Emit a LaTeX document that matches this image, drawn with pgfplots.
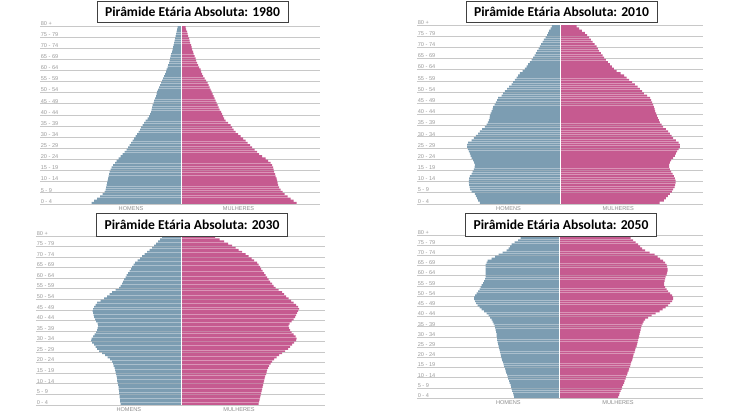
\documentclass[border=0pt]{standalone}
\usepackage{pgfplots}
\pgfplotsset{compat=1.18}
\usepackage{pgfplotstable}
\usepackage{fontspec}
\setmainfont{Carlito}
\newfontfamily\miudo{Liberation Sans}

\definecolor{homem}{RGB}{124,157,178}
\definecolor{mulher}{RGB}{198,90,144}
\definecolor{grade}{RGB}{200,200,200}
\definecolor{rotulo}{RGB}{155,155,155}

% bar lengths (pixels from the centre line)
\pgfplotstableread{
age m f
0 90 115
1 87.5 112
2 84.5 109
3 81.5 106
4 79 103
5 77 101
6 76 99
7 75.5 97.5
8 75 96.5
9 74.5 96
10 74 95.5
11 73.5 95
12 73 94
13 72.5 93.5
14 72 92.5
15 71 92
16 70 91.5
17 68.5 90.5
18 66.5 89
19 65 86.5
20 63 84
21 61 80.5
22 59 77.5
23 57 75.5
24 55 73
25 53.5 70.5
26 52 68.5
27 50.5 66
28 49 64
29 47.5 61.5
30 46 59
31 44.5 56.5
32 43 54
33 41.5 52
34 40.5 50.5
35 39 49
36 37.5 46.5
37 36 44
38 34 42.5
39 32.5 41.5
40 31.5 40.5
41 30.5 39.5
42 30 38
43 29.5 37
44 29 36
45 28 35
46 27.5 34
47 26.5 33
48 25.5 32
49 25 31
50 24.5 30
51 23.5 29
52 22.5 28
53 21.5 27
54 20.5 26
55 19.5 24.5
56 18.5 23
57 17.5 21.5
58 16.5 20.5
59 15.5 19.5
60 15 19
61 14 17.5
62 13.5 16.5
63 12.5 15.5
64 12 14.5
65 11.5 14
66 11 13
67 10.5 12
68 9.5 11.5
69 9 10.5
70 8.5 10
71 8 9.5
72 7.5 8.5
73 7 8
74 6.5 7.5
75 6 6.5
76 5.5 6
77 5 5.5
78 4.5 4.5
79 4 4
}\tabA

\pgfplotstableread{
age m f
0 80.7 99
1 82.3 103.3
2 83.3 105.3
3 84.7 107.3
4 85.7 109.3
5 89 111.3
6 90.3 112.7
7 91 114
8 91.3 114.7
9 91.7 115
10 91.7 115
11 91.3 114.3
12 90.7 113.3
13 89 112
14 88 110.7
15 86.7 109.3
16 86 108.7
17 85.7 108.7
18 86.3 109.3
19 87.3 110.7
20 89 112.7
21 90 114.3
22 90.7 115.3
23 91.7 116.7
24 92.7 118
25 93.3 119.3
26 93.3 119.3
27 92.3 118
28 89 115.3
29 86.7 112.7
30 84.7 111
31 82.3 109.3
32 80.7 107.7
33 78.3 105.3
34 75.7 102.7
35 74 101
36 72.7 99.3
37 71.7 98.3
38 71 97.3
39 70.7 96.3
40 70 95.7
41 69 94.7
42 68 94
43 67.3 93.3
44 66 92.7
45 64.7 91.7
46 63.3 90.7
47 62.3 89.7
48 59 86.7
49 57.3 83.3
50 55.7 81.7
51 53.3 79.3
52 51.3 77
53 49 74.3
54 47.3 71.7
55 45.7 68.7
56 44 66
57 42.3 63.7
58 40.7 60
59 38 56
60 35.7 53.3
61 34 51.3
62 32.3 49.3
63 30.7 47.3
64 29 45.3
65 27.3 43.7
66 26 42
67 24.7 40.3
68 23.3 38.7
69 22 37.3
70 20.7 36
71 19.3 34
72 18 32
73 16.7 30.3
74 15 28.7
75 13.3 26.7
76 12.3 24.3
77 11.3 21.3
78 10 18.7
79 8.7 16
}\tabB

\pgfplotstableread{
age m f
0 60.5 77.5
1 61 78
2 61 78.5
3 61.5 79
4 61.5 79.5
5 62 80
6 62 80.5
7 62.5 81
8 62.5 81.5
9 63 82
10 63.5 82.5
11 64 83
12 64 83.5
13 64.5 84
14 65 85
15 65.5 85.5
16 66 86
17 66.5 87
18 67.5 88
19 68 89.5
20 69 91
21 71 93
22 73.5 95.5
23 76 98
24 79 101
25 82 104
26 84 107
27 85.5 109
28 87 111
29 89 113
30 90 115
31 89.5 115.5
32 88 114.5
33 86.5 112.5
34 85 110.5
35 84 109
36 83.5 108
37 83 107.5
38 83.5 108.5
39 85 110.5
40 86 112.5
41 87 114
42 87.5 115
43 88 116
44 88.5 117
45 88 118
46 87 117
47 85.5 115
48 84 112.5
49 80.5 110
50 77 107.5
51 74 105
52 71.5 103
53 69 101
54 65.5 97.5
55 62 94.5
56 60.5 92.5
57 59 91
58 58 89
59 57 87.5
60 55.5 86
61 54.5 84.5
62 53 83
63 51.5 81.5
64 50 80
65 49 79
66 47.5 77.5
67 46 76
68 43.5 73
69 41 70.5
70 39 67.5
71 36.5 64.5
72 34 61
73 31.5 57.5
74 29 54.5
75 27 51
76 25 47
77 23 43
78 21 38.5
79 19 34
}\tabC

\pgfplotstableread{
age m f
0 45.5 58.5
1 46 59.5
2 46.5 60
3 47.5 61
4 48 62
5 48.5 62.5
6 49 63.5
7 50 64.5
8 50.5 65
9 51.5 66
10 52 66.5
11 52.5 67.5
12 53.5 68
13 54 69
14 54.5 69.5
15 55.5 70.5
16 56 71
17 56.5 71.5
18 57.5 72.5
19 58 73
20 58.5 73.5
21 59 74
22 59.5 75
23 60 75.5
24 60.5 76
25 61 77
26 61.5 77.5
27 62 78
28 62.5 78.5
29 62.5 79
30 63 79.5
31 63 80
32 63.5 80.5
33 64 81
34 64.5 81.5
35 65 82
36 66 83
37 67 84
38 68 85.5
39 69.5 88.5
40 71 92
41 73 96
42 75.5 100
43 78 103
44 80 106
45 82 108.5
46 83.5 110.5
47 84.5 112.5
48 85.5 113.5
49 85.5 113.5
50 84.5 112.5
51 83 110.5
52 81.5 108.5
53 80 107
54 79 105.5
55 78 104.5
56 76.5 104.5
57 75.5 105
58 74.5 105.5
59 74 106
60 74 107
61 74 107.5
62 74 108
63 74 108
64 74 107.5
65 74 107
66 73 105.5
67 72 103.5
68 68 100.5
69 64.5 98
70 61 95
71 57 90
72 53 85.5
73 51 82.5
74 49.5 80.5
75 48 78.5
76 45 76
77 41.5 73.5
78 39 71
79 37 68.5
}\tabD

\pgfplotsset{
  piramide/.style={
    scale only axis,
    anchor=south west,
    ymin=0, ymax=80,
    enlargelimits=false,
    axis line style={draw=none},
    major tick length=0pt,
    xtick=\empty,
    ytick={0,5,...,80},
    yticklabels={0 - 4,5 - 9,10 - 14,15 - 19,20 - 24,25 - 29,30 - 34,35 - 39,40 - 44,45 - 49,50 - 54,55 - 59,60 - 64,65 - 69,70 - 74,75 - 79,80 +},
    yticklabel style={anchor=south west, inner sep=0.6pt, text=rotulo, font=\miudo\fontsize{5.6}{6}\selectfont},
    ymajorgrids,
    grid style={grade, line width=0.8pt},
    clip=false,
  },
  homens/.style={xbar, bar width=0.82, bar shift=0pt, fill=homem, draw=none},
  mulheres/.style={xbar, bar width=0.82, bar shift=0pt, fill=mulher, draw=none},
}

\begin{document}
\begin{tikzpicture}
\path[use as bounding box] (0,0) rectangle (739pt,415pt);

% 1980
\begin{axis}[piramide, at={(40pt,211pt)}, width=280pt, height=178pt, xmin=-141.5, xmax=138.5]
\addplot[homens] table[x expr=-\thisrow{m}, y expr=\thisrow{age}+0.5] {\tabA};
\addplot[mulheres] table[x=f, y expr=\thisrow{age}+0.5] {\tabA};
\draw[white, line width=0.6pt] (axis cs:0,0) -- (axis cs:0,80);
\end{axis}

% 2010
\begin{axis}[piramide, at={(417pt,211pt)}, width=286pt, height=179pt, xmin=-143.5, xmax=142.5]
\addplot[homens] table[x expr=-\thisrow{m}, y expr=\thisrow{age}+0.5] {\tabB};
\addplot[mulheres] table[x=f, y expr=\thisrow{age}+0.5] {\tabB};
\draw[white, line width=0.6pt] (axis cs:0,0) -- (axis cs:0,80);
\end{axis}

% 2030
\begin{axis}[piramide, at={(36pt,10pt)}, width=289pt, height=169pt, xmin=-145, xmax=144]
\addplot[homens] table[x expr=-\thisrow{m}, y expr=\thisrow{age}+0.5] {\tabC};
\addplot[mulheres] table[x=f, y expr=\thisrow{age}+0.5] {\tabC};
\draw[white, line width=0.6pt] (axis cs:0,0) -- (axis cs:0,80);
\end{axis}

% 2050
\begin{axis}[piramide, at={(417pt,16.7pt)}, width=286pt, height=163.3pt, xmin=-142.7, xmax=143.3]
\addplot[homens] table[x expr=-\thisrow{m}, y expr=\thisrow{age}+0.5] {\tabD};
\addplot[mulheres] table[x=f, y expr=\thisrow{age}+0.5] {\tabD};
\draw[white, line width=0.6pt] (axis cs:0,0) -- (axis cs:0,80);
\end{axis}

% sexo
\tikzset{sexo/.style={text=black!45, font=\miudo\fontsize{5.6}{6}\selectfont, inner sep=0pt}}
\node[sexo] at (131pt,206pt) {HOMENS};
\node[sexo] at (238.5pt,206pt) {MULHERES};
\node[sexo] at (508.5pt,206.5pt) {HOMENS};
\node[sexo] at (618.3pt,206.5pt) {MULHERES};
\node[sexo] at (128.8pt,5pt) {HOMENS};
\node[sexo] at (239pt,5pt) {MULHERES};
\node[sexo] at (508.3pt,12pt) {HOMENS};
\node[sexo] at (618pt,12pt) {MULHERES};

% titulos
\tikzset{titulo/.style={draw=black!75, fill=white, line width=0.9pt, inner sep=0pt,
  minimum width=191pt, font=\bfseries\fontsize{13.6}{15}\selectfont}}
\node[titulo, minimum height=21pt] at (192.5pt,403.5pt) {Pirâmide Etária Absoluta: 1980};
\node[titulo, minimum height=21pt] at (561.5pt,403.5pt) {Pirâmide Etária Absoluta: 2010};
\node[titulo, minimum height=23pt] at (192pt,190.5pt) {Pirâmide Etária Absoluta: 2030};
\node[titulo, minimum height=23pt] at (561pt,190.5pt) {Pirâmide Etária Absoluta: 2050};
\end{tikzpicture}
\end{document}
